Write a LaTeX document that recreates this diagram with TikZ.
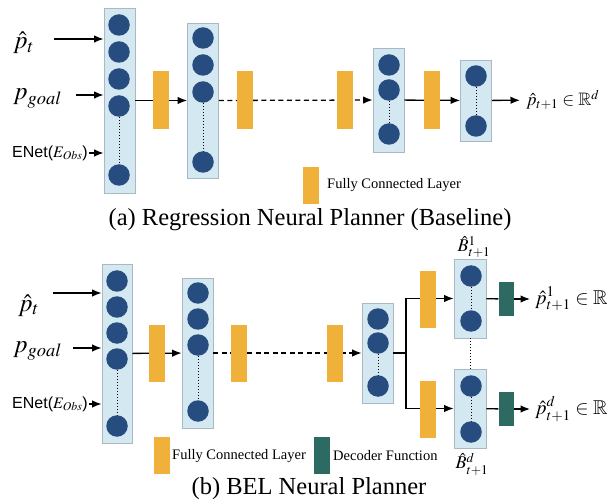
\documentclass[tikz,border=0pt]{standalone}
\usepackage{mathptmx}
\usepackage{amssymb}
\usepackage[no-math]{fontspec}
\setmainfont{Liberation Serif}
\newfontfamily\enetfont{Liberation Sans}
\usetikzlibrary{arrows.meta}
\definecolor{boxfill}{HTML}{D3E8F0}
\definecolor{boxedge}{HTML}{A9B8C3}
\definecolor{unitblue}{HTML}{264C80}
\definecolor{fcorange}{HTML}{F0B13B}
\definecolor{decgreen}{HTML}{2C6A62}
\pgfdeclarelayer{background layer}
\pgfdeclarelayer{edge layer}
\pgfsetlayers{background layer,edge layer,main}
\tikzstyle{layer}=[rectangle,draw=boxedge,fill=boxfill,line width=0.8pt,inner sep=0pt,minimum width=31pt]
\tikzstyle{unit}=[circle,fill=unitblue,inner sep=0pt,minimum size=21.5pt]
\tikzstyle{fc}=[rectangle,fill=fcorange,inner sep=0pt,minimum width=16pt,minimum height=58pt]
\tikzstyle{dec}=[rectangle,fill=decgreen,inner sep=0pt,minimum width=15pt,minimum height=34pt]
\tikzstyle{conn}=[line width=1.3pt,-{Latex[length=9.5pt,width=7.5pt]}]
\tikzstyle{dashconn}=[conn,dash pattern=on 5pt off 3.5pt]
\tikzstyle{gap}=[dotted,line width=1pt]
\tikzstyle{mathlbl}=[inner sep=0pt,font=\fontsize{25}{27}\selectfont]
\tikzstyle{outlbl}=[inner sep=0pt,anchor=west,font=\fontsize{18}{20}\selectfont]
\tikzstyle{enet}=[inner sep=1pt,anchor=west,font=\enetfont\fontsize{16}{18}\selectfont]
\tikzstyle{legend}=[inner sep=0pt,anchor=west,font=\fontsize{14.5}{16}\selectfont]
\tikzstyle{caption}=[inner sep=0pt,font=\fontsize{24.5}{27}\selectfont]

\begin{document}
\begin{tikzpicture}[x=1pt,y=-1pt]
			\useasboundingbox (0,0) rectangle (615,502);
			% (a) regression planner
			\begin{pgfonlayer}{background layer}
				\node (l1) at (119.5,100.5) [layer,minimum height=185pt] {};
				\node (l2) at (203,100.5) [layer,minimum height=155pt] {};
				\node (l3) at (388.5,100) [layer,minimum height=104pt] {};
				\node (l4) at (476,100.5) [layer,minimum height=81pt] {};
			\end{pgfonlayer}
			\node (a1) at (119,25) [unit] {};
			\node (a2) at (119,52) [unit] {};
			\node (a3) at (119,79) [unit] {};
			\node (a4) at (119,106) [unit] {};
			\node (a5) at (119,175) [unit] {};
			\node (b1) at (203,38) [unit] {};
			\node (b2) at (203,65) [unit] {};
			\node (b3) at (203,92) [unit] {};
			\node (b4) at (203,162) [unit] {};
			\node (c1) at (389,65) [unit] {};
			\node (c2) at (389,90) [unit] {};
			\node (c3) at (389,134) [unit] {};
			\node (d1) at (476,76) [unit] {};
			\node (d2) at (476,126) [unit] {};
			\node (f1) at (161,100.5) [fc] {};
			\node (f2) at (245,100.5) [fc] {};
			\node (f3) at (344.5,100.5) [fc] {};
			\node (f4) at (432,100.5) [fc] {};
			\node (pt) at (13,49) [mathlbl,anchor=base west] {$\hat{p}_t$};
			\node (pg) at (13,100) [mathlbl,anchor=base west] {$p_{goal}$};
			\node (en) at (11,153) [enet] {ENet($E_{Obs}$)};
			\coordinate (ptin) at (54,39);
			\coordinate (pgin) at (76,95);
			\node (out) at (526,100) [outlbl] {$\hat{p}_{t+1}\in\mathbb{R}^d$};
			\node (lgf) at (311,185.5) [fc,minimum height=37pt] {};
			\node (lgt) at (327,185.5) [legend] {Fully Connected Layer};
			\node (capa) at (310,220) [caption] {(a) Regression Neural Planner (Baseline)};
			\begin{pgfonlayer}{edge layer}
				\draw[conn] (ptin) -- (ptin -| l1.west);
				\draw[conn] (pgin) -- (pgin -| l1.west);
				\draw[conn] (en) -- (en -| l1.west);
				\draw[conn] (l1) -- (l2);
				\draw[dashconn] (l2) -- (l3);
				\draw[conn] (l3) -- (l4);
				\draw[conn,shorten >=6pt] (l4) -- (out);
				\draw[gap] (a4) -- (a5);
				\draw[gap] (b3) -- (b4);
				\draw[gap] (c2) -- (c3);
				\draw[gap] (d1) -- (d2);
			\end{pgfonlayer}
			% (b) BEL planner
			\begin{pgfonlayer}{background layer}
				\node (m1) at (117,353.5) [layer,minimum width=30pt,minimum height=179pt] {};
				\node (m2) at (197.5,353) [layer,minimum height=150pt] {};
				\node (m3) at (377.5,353) [layer,minimum height=100pt] {};
				\node (bb1) at (470,298.5) [layer,minimum width=32pt,minimum height=79pt] {};
				\node (bbd) at (470,408.5) [layer,minimum width=32pt,minimum height=79pt] {};
			\end{pgfonlayer}
			\node (e1) at (117,281) [unit] {};
			\node (e2) at (117,307) [unit] {};
			\node (e3) at (117,333) [unit] {};
			\node (e4) at (117,359) [unit] {};
			\node (e5) at (117,426) [unit] {};
			\node (g1) at (198,293) [unit] {};
			\node (g2) at (198,319) [unit] {};
			\node (g3) at (198,345) [unit] {};
			\node (g4) at (198,411) [unit] {};
			\node (h1) at (378,319) [unit] {};
			\node (h2) at (378,343) [unit] {};
			\node (h3) at (378,386) [unit] {};
			\node (k1) at (471,276) [unit] {};
			\node (k2) at (471,321) [unit] {};
			\node (kd1) at (471,386) [unit] {};
			\node (kd2) at (471,432) [unit] {};
			\node (q1) at (157,353.5) [fc,minimum height=57pt] {};
			\node (q2) at (239,353.5) [fc,minimum height=57pt] {};
			\node (q3) at (335,353.5) [fc,minimum height=57pt] {};
			\node (qu) at (427.5,299.5) [fc,minimum height=57pt] {};
			\node (ql) at (427.5,409.5) [fc,minimum height=57pt] {};
			\node (dc1) at (506,299) [dec] {};
			\node (dcd) at (506,409) [dec] {};
			\coordinate (split) at (406,353);
			\node (bpt) at (18,311) [mathlbl,anchor=base west] {$\hat{p}_t$};
			\node (bpg) at (13,352) [mathlbl,anchor=base west] {$p_{goal}$};
			\node (ben) at (11,404) [enet] {ENet($E_{Obs}$)};
			\coordinate (bptin) at (53,293);
			\coordinate (bpgin) at (73,348);
			\node (out1) at (535,299) [outlbl,font=\fontsize{20}{22}\selectfont] {$\hat{p}^{1}_{t+1}\in\mathbb{R}$};
			\node (outd) at (535,409) [outlbl,font=\fontsize{20}{22}\selectfont] {$\hat{p}^{d}_{t+1}\in\mathbb{R}$};
			\node (bl1) at (474,247) [outlbl,anchor=center] {$\hat{B}^{1}_{t+1}$};
			\node (bld) at (472,464) [outlbl,anchor=center] {$\hat{B}^{d}_{t+1}$};
			\node (lgf2) at (162,455.5) [fc,minimum height=37pt] {};
			\node (lgt2) at (172,456) [legend] {Fully Connected Layer};
			\node (lgd) at (322,455.5) [dec,minimum width=16pt,minimum height=37pt] {};
			\node (lgt3) at (333,456) [legend] {Decoder Function};
			\node (capb) at (309,489) [caption] {(b) BEL Neural Planner};
			\begin{pgfonlayer}{edge layer}
				\draw[conn] (bptin) -- (bptin -| m1.west);
				\draw[conn] (bpgin) -- (bpgin -| m1.west);
				\draw[conn] (ben) -- (ben -| m1.west);
				\draw[conn] (m1) -- (m2);
				\draw[dashconn] (m2) -- (m3);
				\draw[line width=1.3pt] (m3) -- (split);
				\draw[conn] (split) |- (bb1);
				\draw[conn] (split) |- (bbd);
				\draw[line width=1.3pt] (bb1) -- (dc1);
				\draw[line width=1.3pt] (bbd) -- (dcd);
				\draw[conn,shorten >=5pt] (dc1) -- (out1);
				\draw[conn,shorten >=5pt] (dcd) -- (outd);
				\draw[gap] (bb1) -- (bbd);
				\draw[gap] (e4) -- (e5);
				\draw[gap] (g3) -- (g4);
				\draw[gap] (h2) -- (h3);
				\draw[gap] (k1) -- (k2);
				\draw[gap] (kd1) -- (kd2);
			\end{pgfonlayer}
		\end{tikzpicture}
\end{document}
